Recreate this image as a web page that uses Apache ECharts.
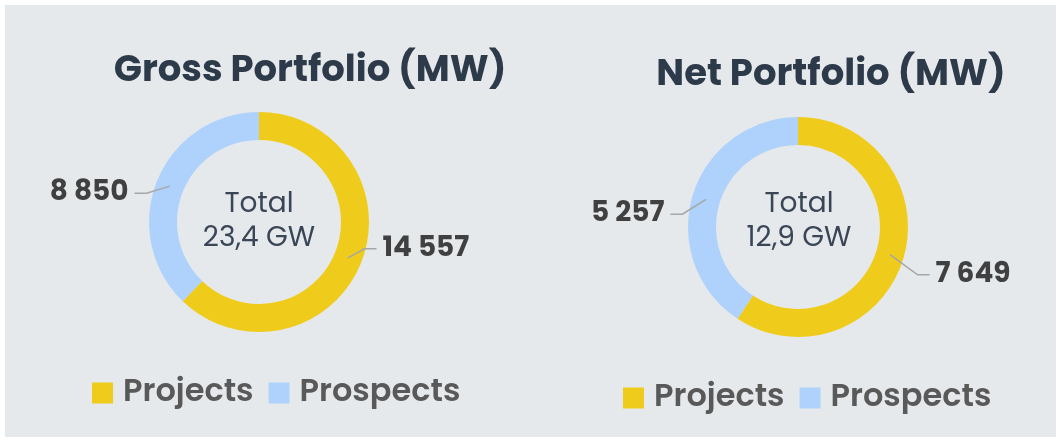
<!DOCTYPE html>
<html><head><meta charset="utf-8">
<script src="https://cdn.jsdelivr.net/npm/echarts@6/dist/echarts.min.js"></script>
<style>html,body{margin:0;padding:0;background:#fff}#c{width:1061px;height:441px}</style>
</head><body><div id="c"></div>
<script>
const categories = ['Projects', 'Prospects'];
const grossValues = [14557, 8850];
const netValues = [7649, 5257];
const chartTitles = ['Gross Portfolio (MW)', 'Net Portfolio (MW)'];
const totalLabels = ['Total\n23,4 GW', 'Total\n12,9 GW'];
const colors = ['#efcc1b', '#aed2fc'];
const FONT = 'Poppins, Inter, "Noto Sans", sans-serif';

function fmt(v){ return String(v).replace(/\B(?=(\d{3})+(?!\d))/g, ' '); }
function toData(vals){ return categories.map((c,i)=>({name:c, value:vals[i]})); }

// label nudges (style only) for [gross, net] x [Projects, Prospects]
const labelNudge = [[[9,-12],[-16,10]], [[20,18],[-16,17]]];
const GAP = 6, SEG = 12;

const chart = echarts.init(document.getElementById('c'));
const ringBase = {
  type:'pie', radius:[82,110], clockwise:true, startAngle:90, z:2,
  silent:true, label:{show:false}, labelLine:{show:false}, itemStyle:{borderWidth:0}
};
const labelBase = {
  type:'pie', radius:[0,96], clockwise:true, startAngle:90, silent:true, z:5,
  avoidLabelOverlap:false, legendHoverLink:false,
  itemStyle:{color:'rgba(0,0,0,0)', borderWidth:0},
  label:{show:true, position:'outside', formatter:p=>fmt(p.value),
    fontFamily:FONT, fontWeight:'bold', fontSize:28, color:'#404040', distanceToLabelLine:GAP},
  labelLine:{show:true, length:8, length2:SEG, lineStyle:{color:'#a6a6a6', width:1.5}},
  labelLayout:function(p){
    const n = labelNudge[p.seriesIndex-2][p.dataIndex];
    const r = p.labelRect;
    const pts = p.labelLinePoints;
    const cy = r.y + r.height/2 + n[1];
    const start = pts ? pts[0] : null;
    const onRight = start ? (r.x > start[0]) : true;
    let ex, mx;
    if (onRight) { ex = r.x + n[0] - GAP; mx = ex - SEG; }
    else { ex = r.x + r.width + n[0] + GAP; mx = ex + SEG; }
    const out = {dx:n[0], dy:n[1]};
    if (start) out.labelLinePoints = [start, [mx, cy], [ex, cy]];
    return out;
  }
};
const legendBase = {data:categories, icon:'rect', itemWidth:21, itemHeight:21, itemGap:15,
  textStyle:{fontFamily:FONT, fontWeight:600, fontSize:32, color:'#595959', padding:[0,0,0,5]}};
chart.setOption({
  animation:false,
  color:colors,
  backgroundColor:'#ffffff',
  graphic:[{type:'rect', z:-10, shape:{x:5,y:5,width:1051,height:432}, style:{fill:'#e6e9ec'}}],
  title:[
    {text:chartTitles[0], left:305, top:48, textAlign:'center',
     textStyle:{fontFamily:FONT, fontWeight:'bold', fontSize:37, color:'#2d3a4a'}},
    {text:chartTitles[1], left:826, top:52, textAlign:'center',
     textStyle:{fontFamily:FONT, fontWeight:'bold', fontSize:37, color:'#2d3a4a'}},
    {text:totalLabels[0], left:254, top:183, textAlign:'center',
     textStyle:{fontFamily:FONT, fontWeight:'normal', fontSize:28, lineHeight:34, color:'#3a4656'}},
    {text:totalLabels[1], left:794, top:183, textAlign:'center',
     textStyle:{fontFamily:FONT, fontWeight:'normal', fontSize:28, lineHeight:34, color:'#3a4656'}}
  ],
  legend:[
    Object.assign({}, legendBase, {left:87, top:372}),
    Object.assign({}, legendBase, {left:618, top:377})
  ],
  series:[
    Object.assign({}, ringBase, {center:[259,222], data:toData(grossValues)}),
    Object.assign({}, ringBase, {center:[798,227], data:toData(netValues)}),
    Object.assign({}, labelBase, {center:[259,222], data:toData(grossValues)}),
    Object.assign({}, labelBase, {center:[798,227], data:toData(netValues)})
  ]
});
</script></body></html>
